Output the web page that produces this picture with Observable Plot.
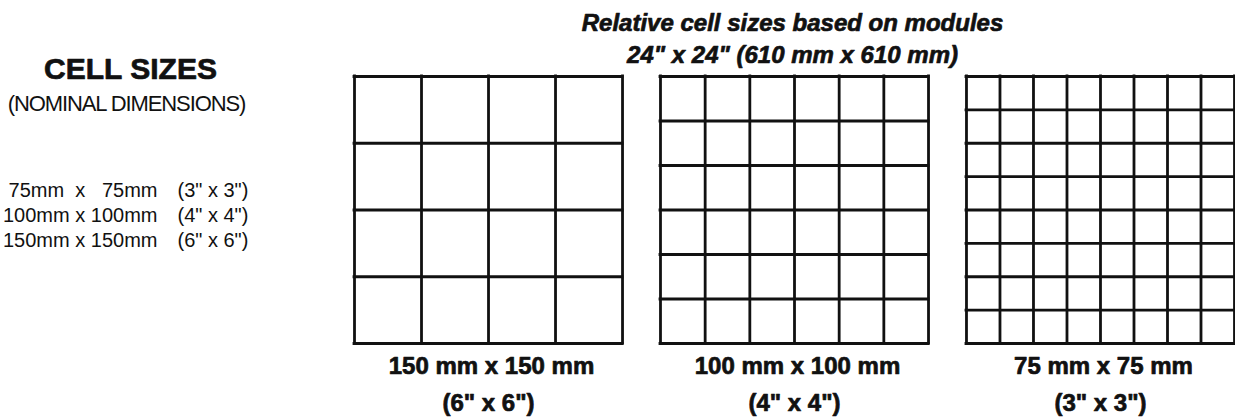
<!DOCTYPE html>
<html><head><meta charset="utf-8">
<script src="https://cdn.jsdelivr.net/npm/d3@7"></script>
<script src="https://cdn.jsdelivr.net/npm/@observablehq/plot@0.6"></script>
<style>
html,body{margin:0;padding:0;background:#fff;}
#chart svg{display:block;}
</style>
</head><body><div id="chart"></div>
<script>
// ---- data ----
const moduleLabels = ["150 mm x 150 mm", "100 mm x 100 mm", "75 mm x 75 mm"];
const moduleInchLabels = ['(6" x 6")', '(4" x 4")', '(3" x 3")'];
const cellSizeInches = [6, 4, 3];
const moduleSizeInches = 24;
const titleLines = ["Relative cell sizes based on modules", '24" x 24" (610 mm x 610 mm)'];
const legendTitle = "CELL SIZES";
const legendSubtitle = "(NOMINAL DIMENSIONS)";
const legendMm = ["75mm\u00a0\u00a0x\u00a0\u00a0\u00a075mm", "100mm x 100mm", "150mm x 150mm"];
const legendIn = ['(3" x 3")', '(4" x 4")', '(6" x 6")'];

// ---- layout helpers ----
const GAP = 3.4; // inches of white space between module drawings
const panels = moduleLabels.map((label, i) => ({
  label, inch: moduleInchLabels[i], cell: cellSizeInches[i],
  x0: i * (moduleSizeInches + GAP)
}));
const gridLines = panels.flatMap(p =>
  d3.range(0, moduleSizeInches / p.cell + 1).map(k => ({p, v: k * p.cell})));

const FONT = "Liberation Sans, Arial, sans-serif";
const ink = "#111";
const heavy = {fontWeight: "bold", fill: ink, stroke: ink, strokeWidth: 0.7};

const chart = Plot.plot({
  width: 1235,
  height: 417,
  marginLeft: 354,
  marginRight: 1,
  marginTop: 76,
  marginBottom: 74,
  x: {domain: [0, 3 * moduleSizeInches + 2 * GAP], axis: null},
  y: {domain: [0, moduleSizeInches], axis: null},
  style: {fontFamily: FONT, background: "white", color: ink},
  marks: [
    Plot.ruleX(gridLines, {x: d => d.p.x0 + d.v, y1: 0, y2: moduleSizeInches,
      stroke: ink, strokeWidth: 2.8, strokeLinecap: "square"}),
    Plot.ruleY(gridLines, {y: d => d.v, x1: d => d.p.x0, x2: d => d.p.x0 + moduleSizeInches,
      stroke: ink, strokeWidth: 2.8, strokeLinecap: "square"}),
    // labels below each module
    Plot.text(panels, {x: d => d.x0 + moduleSizeInches / 2, frameAnchor: "bottom", text: d => d.label,
      fontSize: 24, ...heavy, lineAnchor: "bottom", dy: 30, dx: 3}),
    Plot.text(panels, {x: d => d.x0 + moduleSizeInches / 2, frameAnchor: "bottom", text: d => d.inch,
      fontSize: 24, ...heavy, lineAnchor: "bottom", dy: 67}),
    // title above
    Plot.text([titleLines[0]], {frameAnchor: "top", text: d => d, fontSize: 24, ...heavy,
      fontStyle: "italic", lineAnchor: "bottom", dy: -46, dx: -2}),
    Plot.text([titleLines[1]], {frameAnchor: "top", text: d => d, fontSize: 24, ...heavy,
      fontStyle: "italic", lineAnchor: "bottom", dy: -14, dx: -2}),
    // legend block on the left
    Plot.text([legendTitle], {frameAnchor: "top-left", text: d => d, fontSize: 30, ...heavy,
      textAnchor: "middle", lineAnchor: "bottom", dx: -224, dy: 2}),
    Plot.text([legendSubtitle], {frameAnchor: "top-left", text: d => d, fontSize: 22, fill: ink,
      textAnchor: "middle", lineAnchor: "bottom", dx: -228, dy: 34}),
    Plot.text([legendMm.join("\n")], {frameAnchor: "top-left", text: d => d, fontSize: 20, fill: ink,
      textAnchor: "end", lineAnchor: "top", lineHeight: 1.25, dx: -197, dy: 103}),
    Plot.text([legendIn.join("\n")], {frameAnchor: "top-left", text: d => d, fontSize: 20, fill: ink,
      textAnchor: "start", lineAnchor: "top", lineHeight: 1.25, dx: -177, dy: 103})
  ]
});
// condensed look of the subtitle, as in the printed original
d3.select(chart).selectAll("text").filter(function() { return this.textContent === legendSubtitle; })
  .style("letter-spacing", "-1.1px");
document.getElementById("chart").appendChild(chart);
</script>
</body></html>
